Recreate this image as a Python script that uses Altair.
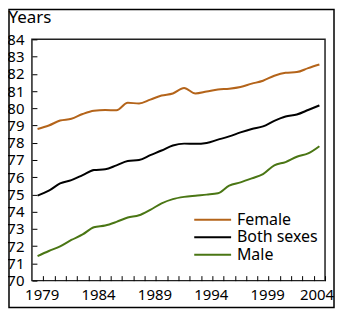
import altair as alt
import pandas as pd

years = list(range(1979, 2005))
female = [78.80, 79.00, 79.29, 79.39, 79.67, 79.86, 79.90, 79.88, 80.32, 80.28,
          80.50, 80.74, 80.86, 81.18, 80.86, 80.97, 81.09, 81.14, 81.24, 81.43,
          81.60, 81.89, 82.06, 82.10, 82.33, 82.54]
both = [74.93, 75.22, 75.64, 75.83, 76.12, 76.42, 76.46, 76.69, 76.94, 77.00,
        77.28, 77.55, 77.84, 77.95, 77.94, 77.99, 78.18, 78.37, 78.60, 78.80,
        78.95, 79.27, 79.52, 79.64, 79.90, 80.17]
male = [71.42, 71.72, 71.99, 72.36, 72.68, 73.10, 73.20, 73.41, 73.66, 73.79,
        74.11, 74.48, 74.73, 74.86, 74.93, 74.99, 75.07, 75.51, 75.70, 75.93,
        76.18, 76.69, 76.88, 77.19, 77.38, 77.80]
series = ["Female", "Both sexes", "Male"]
colors = ["#B4641A", "#000000", "#4A7614"]
y_ticks = list(range(70, 85))
x_ticks = [y + 0.5 for y in range(1979, 2005)]

rows = []
for name, vals in zip(series, [female, both, male]):
    for yr, v in zip(years, vals):
        rows.append({"year": yr, "value": v, "series": name})
df = pd.DataFrame(rows)

FONT = "Noto Sans"

lines = alt.Chart(df).mark_line(strokeWidth=2, interpolate="monotone").encode(
    x=alt.X("year:Q",
            scale=alt.Scale(domain=[1978.5, 2004.5], nice=False, zero=False),
            axis=alt.Axis(values=x_ticks, title=None, grid=False, domain=False,
                          offset=-5, tickSize=5, tickColor="black", tickWidth=1,
                          labelOffset={"condition": {"test": "datum.value == 2004.5", "value": -8.5},
                                       "value": -1.5},
                          labelPadding=7, labelFlush=False,
                          labelOverlap=False, labelFontSize=15, labelFont=FONT,
                          labelColor="black",
                          labelExpr="(datum.value - 1979.5) % 5 == 0 ? format(datum.value - 0.5, 'd') : ''")),
    y=alt.Y("value:Q",
            scale=alt.Scale(domain=[70, 84], nice=False, zero=False),
            axis=alt.Axis(values=y_ticks, title="Years", grid=False, domain=False,
                          offset=-5, tickSize=5, tickColor="black", tickWidth=1,
                          labelPadding=8, labelFontSize=15, labelFont=FONT,
                          labelColor="black", format="d",
                          titleAngle=0, titleAlign="left", titleBaseline="alphabetic",
                          titleX=-29, titleY=-17, titleFontSize=17,
                          titleFontWeight="normal", titleFont=FONT, titleColor="black")),
    color=alt.Color("series:N",
                    scale=alt.Scale(domain=series, range=colors),
                    legend=alt.Legend(title=None, orient="none", legendX=173.3, legendY=173,
                                      symbolType="M-3,0H3", symbolSize=152,
                                      symbolStrokeWidth=2, labelFontSize=16,
                                      labelFont=FONT, labelOffset=16.3, rowPadding=1.5,
                                      labelColor="black")),
)

frame = alt.Chart(pd.DataFrame({"a": [0]})).mark_rect(
    filled=False, stroke="black", strokeWidth=1.5
).encode(x=alt.value(-23), x2=alt.value(303), y=alt.value(-30), y2=alt.value(269))

chart = alt.layer(lines, frame).properties(
    width=294, height=242,
    autosize=alt.AutoSizeParams(type="none"),
    padding={"left": 24, "top": 31, "right": 10, "bottom": 28},
).configure_view(stroke="#222", strokeWidth=1.5)

chart.save("out.html", embed_options={"renderer": "svg", "actions": False})
